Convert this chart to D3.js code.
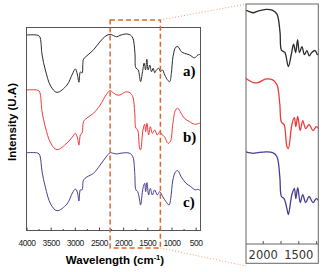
<!DOCTYPE html>
<html>
<head>
<meta charset="utf-8">
<script src="https://cdn.jsdelivr.net/npm/d3@7"></script>
<style>
  body { margin: 0; background: #fff; }
  svg { display: block; }
</style>
</head>
<body>
<div id="chart"></div>
<script>
// spectra: [wavenumber cm-1, intensity (arbitrary, stacked)]
const specA = [[4000,96.3],[3800,96.3],[3740,95.8],[3715,94.8],[3677,86.4],[3610,79.0],[3500,71.0],[3370,67.9],[3163,71.5],[3050,77.0],[2990,79.5],[2950,77.0],[2915,72.9],[2885,78.0],[2850,77.5],[2820,84.3],[2750,86.0],[2615,88.9],[2477,93.0],[2354,95.9],[2272,96.6],[2200,96.0],[2134,95.4],[2066,96.1],[1950,96.8],[1860,96.4],[1800,94.8],[1757,87.4],[1737,80.0],[1689,79.0],[1640,73.2],[1599,78.1],[1566,82.4],[1537,79.0],[1510,84.3],[1484,79.0],[1449,81.4],[1414,78.1],[1380,79.8],[1346,77.6],[1311,79.0],[1263,79.8],[1228,78.1],[1187,79.0],[1140,76.5],[1072,73.7],[1037,73.2],[1003,77.3],[969,85.5],[914,90.2],[866,90.5],[796,88.0],[728,87.2],[625,86.4],[523,85.0],[455,86.4],[400,86.7]];
const specB = [[4000,69.1],[3800,69.1],[3740,68.6],[3715,67.1],[3677,58.2],[3610,50.7],[3500,42.8],[3370,39.5],[3163,42.8],[3050,45.8],[2990,47.6],[2950,45.8],[2915,41.8],[2885,46.8],[2850,47.8],[2820,53.4],[2750,55.2],[2615,57.5],[2477,61.6],[2354,66.6],[2272,68.7],[2200,67.6],[2134,66.6],[2066,66.6],[1950,68.1],[1860,67.7],[1800,65.7],[1760,57.7],[1737,50.2],[1700,49.3],[1660,40.2],[1640,39.4],[1590,49.3],[1555,52.1],[1535,48.4],[1508,52.6],[1473,46.8],[1438,50.9],[1396,47.6],[1349,49.3],[1293,46.8],[1246,48.4],[1190,46.8],[1143,45.9],[1074,42.7],[1025,43.5],[971,52.6],[916,59.2],[868,60.0],[819,58.3],[730,55.0],[627,53.4],[524,52.1],[420,52.6],[400,52.6]];
const specC = [[4000,38.0],[3800,38.0],[3740,37.4],[3715,35.9],[3677,28.5],[3610,21.0],[3500,12.6],[3370,9.3],[3163,12.6],[3050,18.1],[2990,20.0],[2950,18.6],[2915,14.1],[2885,19.6],[2850,19.6],[2820,24.5],[2750,26.0],[2615,27.8],[2477,31.9],[2354,35.9],[2272,38.0],[2200,37.7],[2134,37.4],[2066,37.7],[1950,38.0],[1860,37.7],[1800,36.0],[1760,27.8],[1737,19.6],[1700,18.7],[1660,14.6],[1640,12.1],[1590,20.4],[1555,22.9],[1535,18.7],[1508,23.2],[1473,17.1],[1438,20.4],[1396,17.1],[1349,19.6],[1293,17.1],[1246,18.7],[1180,16.2],[1115,13.8],[1050,12.1],[1016,15.4],[971,24.5],[916,28.6],[868,29.1],[800,26.1],[700,22.9],[600,21.2],[510,19.6],[455,19.9],[400,19.2]];

const seriesLabels = ["a)", "b)", "c)"];
const seriesColors = ["#2b2b2b", "#ee3a3a", "#4a3e8f"];
const xTicks = [4000, 3500, 3000, 2500, 2000, 1500, 1000, 500];
const insetTicks = [2000, 1750, 1500, 1250];
const insetLabels = [2000, 1500];
const zoomRange = [2270, 1230];

const spectra = [specA, specB, specC];

const width = 324, height = 272;
const svg = d3.select("#chart").append("svg")
    .attr("width", width)
    .attr("height", height);

// main panel
const x = d3.scaleLinear().domain([4000, 400]).range([26.5, 200.5]);
const y = d3.scaleLinear().domain([0, 100]).range([229.5, 27.5]);

// inset panel
const xi = d3.scaleLinear().domain([2235, 1219]).range([246, 318.3]);
const yi = d3.scaleLinear().domain([0, 99]).range([244, 4]);

const defs = svg.append("defs");
defs.append("clipPath").attr("id", "clipMain")
  .append("rect").attr("x", 26.5).attr("y", 27.5).attr("width", 174).attr("height", 203);
defs.append("clipPath").attr("id", "clipInset")
  .append("rect").attr("x", 246).attr("y", 4).attr("width", 72.3).attr("height", 240);

const lineMain = d3.line().x(d => x(d[0])).y(d => y(d[1])).curve(d3.curveCatmullRom.alpha(0.5));
const lineInset = d3.line().x(d => xi(d[0])).y(d => yi(d[1])).curve(d3.curveCatmullRom.alpha(0.5));

svg.append("g").attr("clip-path", "url(#clipMain)")
  .selectAll("path").data(spectra).enter().append("path")
    .attr("d", lineMain)
    .attr("fill", "none")
    .attr("stroke", (d, i) => seriesColors[i])
    .attr("stroke-width", 1);

svg.append("g").attr("clip-path", "url(#clipInset)")
  .selectAll("path").data(spectra).enter().append("path")
    .attr("d", lineInset)
    .attr("fill", "none")
    .attr("stroke", (d, i) => seriesColors[i])
    .attr("stroke-width", 1.3);

// frames
svg.append("rect")
    .attr("x", 26.5).attr("y", 27.5).attr("width", 174).attr("height", 203)
    .attr("fill", "none").attr("stroke", "#555").attr("stroke-width", 1);
svg.append("rect")
    .attr("x", 246).attr("y", 4).attr("width", 72.3).attr("height", 259.3)
    .attr("fill", "none").attr("stroke", "#666").attr("stroke-width", 1);
svg.append("line")
    .attr("x1", 246).attr("x2", 318.3).attr("y1", 244).attr("y2", 244)
    .attr("stroke", "#666").attr("stroke-width", 1);

// main x axis
const xAxis = svg.append("g")
    .attr("transform", "translate(0,230.5)")
    .call(d3.axisBottom(x).tickValues(xTicks).tickSizeInner(-3).tickSizeOuter(0).tickPadding(9)
      .tickFormat(d3.format("d")));
xAxis.select(".domain").remove();
xAxis.selectAll("line").attr("stroke", "#444");
xAxis.selectAll("text")
    .style("font-family", "'Liberation Sans', Arial, sans-serif")
    .style("font-size", "8.5px")
    .style("letter-spacing", "-0.45px")
    .attr("fill", "#222");

const xMinor = svg.append("g")
    .attr("transform", "translate(0,230.5)")
    .call(d3.axisBottom(x).tickValues(xTicks.map(d => d - 250).filter(d => d > 400)).tickSize(-1.5).tickFormat(""));
xMinor.select(".domain").remove();
xMinor.selectAll("line").attr("stroke", "#444");

// inset axis
const iAxis = svg.append("g")
    .attr("transform", "translate(0,244)")
    .call(d3.axisBottom(xi).tickValues(insetTicks).tickSizeInner(-3).tickSizeOuter(0).tickPadding(7)
      .tickFormat(d => insetLabels.includes(d) ? String(d) : ""));
iAxis.select(".domain").remove();
iAxis.selectAll("line").attr("stroke", "#555");
iAxis.selectAll("text")
    .style("font-family", "'DejaVu Sans', sans-serif")
    .style("font-size", "11.5px")
    .attr("fill", "#333");

// zoom window and connectors
svg.append("rect")
    .attr("x", x(zoomRange[0]))
    .attr("y", 20)
    .attr("width", x(zoomRange[1]) - x(zoomRange[0]))
    .attr("height", 228)
    .attr("fill", "none")
    .attr("stroke", "#e0662a")
    .attr("stroke-width", 1.5)
    .attr("stroke-dasharray", "5,3");

svg.append("line")
    .attr("x1", x(zoomRange[1])).attr("y1", 20).attr("x2", 246).attr("y2", 4)
    .attr("stroke", "#f0a070").attr("stroke-width", 1).attr("stroke-dasharray", "1,2");
svg.append("line")
    .attr("x1", x(zoomRange[1])).attr("y1", 248).attr("x2", 246).attr("y2", 266)
    .attr("stroke", "#f0a070").attr("stroke-width", 1).attr("stroke-dasharray", "1,2");

// series labels
svg.selectAll(".slabel").data(seriesLabels).enter().append("text")
    .attr("class", "slabel")
    .attr("x", 183)
    .attr("y", (d, i) => [75.5, 141.5, 207][i])
    .style("font-family", "'Liberation Serif', 'Times New Roman', serif")
    .style("font-weight", "bold")
    .style("font-size", "15px")
    .text(d => d);

// axis titles
const xTitle = svg.append("text")
    .attr("x", 115)
    .attr("y", 263.5)
    .attr("text-anchor", "middle")
    .style("font-family", "'Liberation Sans', Arial, sans-serif")
    .style("font-weight", "bold")
    .style("font-size", "11.5px");
xTitle.append("tspan").text("Wavelength (cm");
xTitle.append("tspan").attr("dy", -4).style("font-size", "7.5px").text("-1");
xTitle.append("tspan").attr("dy", 4).text(")");

svg.append("text")
    .attr("text-anchor", "middle")
    .attr("transform", "translate(16,122) rotate(-90)")
    .style("font-family", "'Liberation Sans', Arial, sans-serif")
    .style("font-weight", "bold")
    .style("font-size", "11.5px")
    .text("Intensity (U.A)");
</script>
</body>
</html>
